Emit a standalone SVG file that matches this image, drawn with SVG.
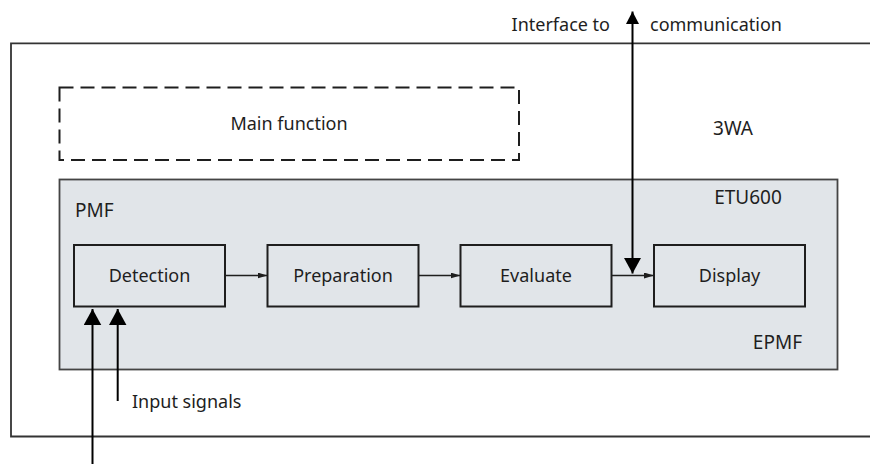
<svg xmlns="http://www.w3.org/2000/svg" width="870" height="464" viewBox="0 0 870 464">
  <style>
    text { font-family: "Noto Sans", "Open Sans", "DejaVu Sans", sans-serif; font-size: 18px; fill: #1e1e1e; }
    .lbl { font-size: 19px; }
    .frame { fill: none; stroke: #333; stroke-width: 1.8; }
    .box { fill: none; stroke: #1e1e1e; stroke-width: 2; }
    .dash { fill: none; stroke: #1e1e1e; stroke-width: 2; stroke-dasharray: 14 7; }
    .etu { fill: #e1e5e9; stroke: #444; stroke-width: 1.8; }
    .wire { fill: none; stroke: #000; stroke-width: 2; }
    .flow { fill: none; stroke: #1e1e1e; stroke-width: 1.5; }
  </style>
  <defs>
    <marker id="big" markerUnits="userSpaceOnUse" markerWidth="16" markerHeight="18" refX="16" refY="8.75" orient="auto-start-reverse" viewBox="0 0 16 17.5">
      <path d="M0,0 L16,8.75 L0,17.5 z" fill="#000"/>
    </marker>
    <marker id="top" markerUnits="userSpaceOnUse" markerWidth="12.5" markerHeight="13" refX="12.5" refY="6.5" orient="auto-start-reverse" viewBox="0 0 12.5 13">
      <path d="M0,0 L12.5,6.5 L0,13 z" fill="#000"/>
    </marker>
    <marker id="small" markerUnits="userSpaceOnUse" markerWidth="10" markerHeight="6" refX="10" refY="3" orient="auto" viewBox="0 0 10 6">
      <path d="M0,0 L10,3 L0,6 z" fill="#1e1e1e"/>
    </marker>
  </defs>

  <g id="frame-3wa">
    <path class="frame" d="M870,43.3 H11 V436.5 H870"/>
    <text class="lbl" x="733" y="135" text-anchor="middle">3WA</text>
  </g>

  <g id="main-function">
    <rect class="dash" x="59.5" y="87.5" width="459.5" height="72.5"/>
    <text x="289" y="130" text-anchor="middle">Main function</text>
  </g>

  <g id="etu600">
    <rect class="etu" x="59.5" y="179.5" width="778" height="190"/>
    <text class="lbl" x="748" y="204" text-anchor="middle">ETU600</text>
    <text class="lbl" x="75" y="217">PMF</text>
    <text class="lbl" x="802" y="349" text-anchor="end">EPMF</text>
  </g>

  <g id="detection">
    <rect class="box" x="74" y="245" width="151" height="61.5"/>
    <text x="149.5" y="282" text-anchor="middle">Detection</text>
  </g>
  <g id="preparation">
    <rect class="box" x="267.5" y="245" width="151" height="61.5"/>
    <text x="343" y="282" text-anchor="middle">Preparation</text>
  </g>
  <g id="evaluate">
    <rect class="box" x="460.5" y="245" width="151" height="61.5"/>
    <text x="536" y="282" text-anchor="middle">Evaluate</text>
  </g>
  <g id="display">
    <rect class="box" x="654" y="245" width="151" height="61.5"/>
    <text x="729.5" y="282" text-anchor="middle">Display</text>
  </g>

  <g id="connectors">
    <path class="flow" d="M225,275.5 H267.5" marker-end="url(#small)"/>
    <path class="flow" d="M418.5,275.5 H460.5" marker-end="url(#small)"/>
    <path class="flow" d="M611.5,275.5 H654" marker-end="url(#small)"/>
    <path class="wire" d="M632.5,11.5 V273.5" marker-start="url(#top)" marker-end="url(#big)"/>
    <path class="wire" d="M92.5,464 V309" marker-end="url(#big)"/>
    <path class="wire" d="M117.7,401 V309" marker-end="url(#big)"/>
  </g>

  <g id="labels">
    <text x="610" y="31" text-anchor="end">Interface to</text>
    <text x="650" y="31">communication</text>
    <text x="132" y="408">Input signals</text>
  </g>
</svg>
